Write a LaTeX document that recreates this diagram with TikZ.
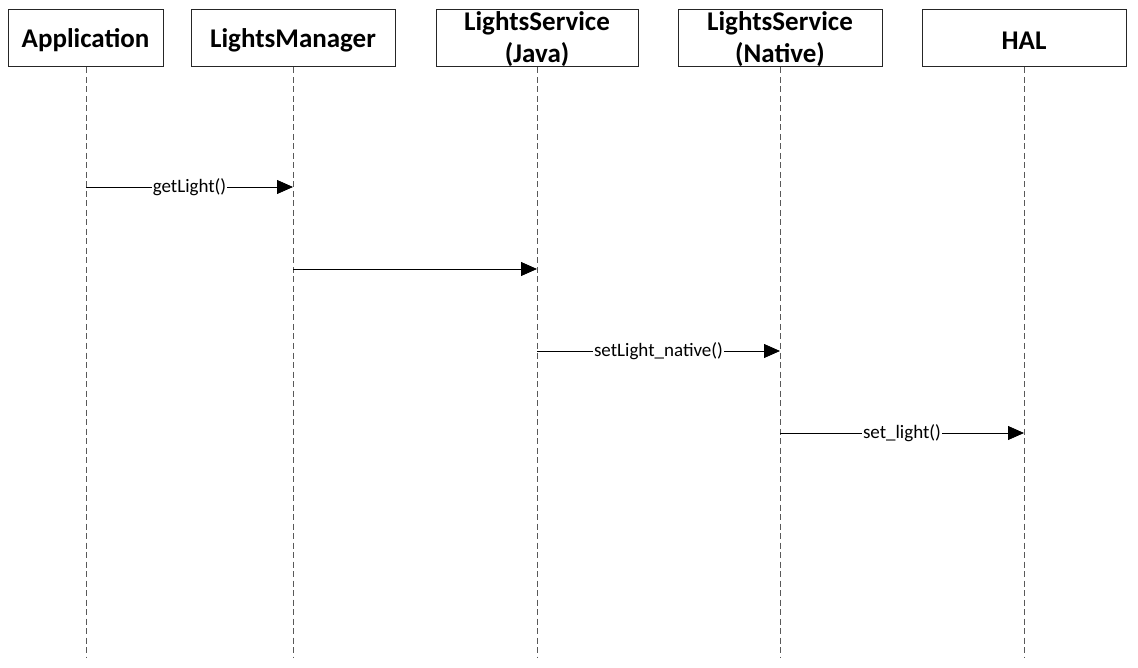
\documentclass[tikz,border=0pt]{standalone}
\usepackage{fontspec}
\setmainfont{Carlito}
\usetikzlibrary{arrows.meta}
\tikzset{
  actor/.style={draw=black!85, line width=1pt, fill=white, minimum height=57pt, inner sep=0pt,
    font=\fontsize{27}{32}\selectfont\bfseries, align=center},
  titletext/.style={font=\fontsize{27}{32}\selectfont\bfseries, align=center, inner sep=0pt},
  lifeline/.style={draw=black!65, line width=0.8pt, dash pattern=on 6pt off 3.5pt},
  msg/.style={draw=black, line width=0.8pt, -{Triangle[length=16pt,width=14pt]}},
  msglabel/.style={fill=white, inner sep=1pt, font=\fontsize{19}{22}\selectfont}
}
\begin{document}
\begin{tikzpicture}[x=1pt,y=-1pt]
\useasboundingbox (0,0) rectangle (1138,668);
% actors
\node[actor, minimum width=155pt] (app) at (85.5,38.5) {};
\node[actor, minimum width=204pt] (lm) at (293,38.5) {};
\node[actor, minimum width=202pt] (java) at (537,38.5) {};
\node[actor, minimum width=204pt] (nat) at (780,38.5) {};
\node[actor, minimum width=204pt] (hal) at (1024,38.5) {};
\node[titletext] (appt) at (85.5,40.5) {Application};
\node[titletext] (lmt) at (293,40.5) {LightsManager};
\node[titletext] (halt) at (1024,40.5) {HAL};
\node[titletext] (javat) at (537,39) {LightsService\\(Java)};
\node[titletext] (natt) at (780,39) {LightsService\\(Native)};
% lifeline ends
\coordinate (appE) at (86,658);
\coordinate (lmE) at (293,658);
\coordinate (javaE) at (537,658);
\coordinate (natE) at (780,658);
\coordinate (halE) at (1024,658);
\draw[lifeline] (app.south -| appE) -- (appE);
\draw[lifeline] (lm.south) -- (lmE);
\draw[lifeline] (java.south) -- (javaE);
\draw[lifeline] (nat.south) -- (natE);
\draw[lifeline] (hal.south) -- (halE);
% message points
\coordinate (m1a) at (86,187);
\coordinate (m1b) at (293,187);
\coordinate (m2a) at (293,269);
\coordinate (m2b) at (537,269);
\coordinate (m3a) at (537,351);
\coordinate (m3b) at (780,351);
\coordinate (m4a) at (780,433);
\coordinate (m4b) at (1024,433);
\draw[msg] (m1a) -- node[msglabel] (l1) {getLight()} (m1b);
\draw[msg] (m2a) -- (m2b);
\draw[msg] (m3a) -- node[msglabel] (l3) {setLight\_native()} (m3b);
\draw[msg] (m4a) -- node[msglabel] (l4) {set\_light()} (m4b);
\end{tikzpicture}
\end{document}
